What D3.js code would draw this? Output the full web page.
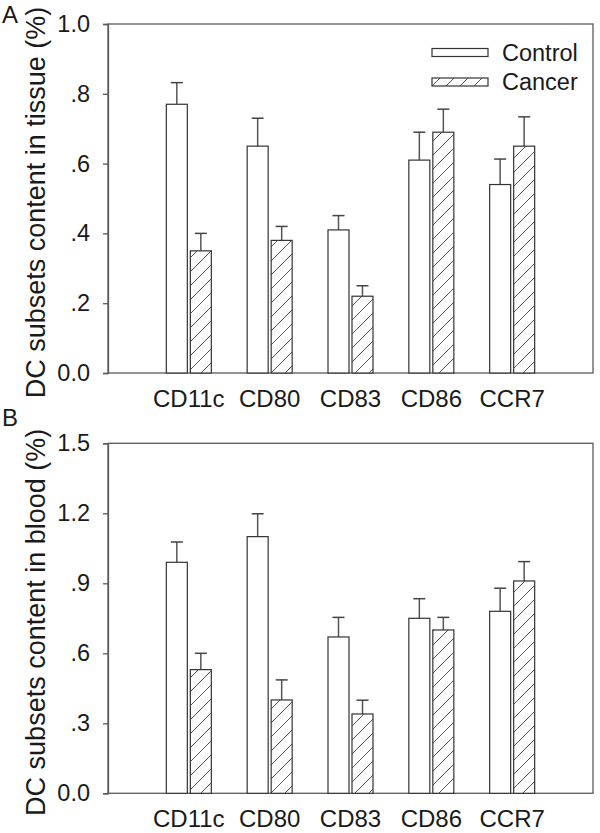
<!DOCTYPE html>
<html>
<head>
<meta charset="utf-8">
<script src="https://cdn.jsdelivr.net/npm/d3@7"></script>
<style>
  html, body { margin: 0; padding: 0; background: #fff; }
  svg { display: block; font-family: "Liberation Sans", Arial, sans-serif; }
</style>
</head>
<body>
<svg id="chart" width="600" height="833"></svg>
<script>
// ---- data ----
const categories = ["CD11c", "CD80", "CD83", "CD86", "CCR7"];
const seriesNames = ["Control", "Cancer"];

const tissueControl    = [0.77, 0.65, 0.41, 0.61, 0.54];
const tissueControlErr = [0.062, 0.080, 0.041, 0.080, 0.073];
const tissueCancer     = [0.35, 0.38, 0.22, 0.69, 0.65];
const tissueCancerErr  = [0.050, 0.040, 0.030, 0.066, 0.084];

const bloodControl     = [0.99, 1.10, 0.67, 0.75, 0.78];
const bloodControlErr  = [0.087, 0.098, 0.084, 0.084, 0.099];
const bloodCancer      = [0.53, 0.40, 0.34, 0.70, 0.91];
const bloodCancerErr   = [0.070, 0.086, 0.059, 0.054, 0.083];

const tissueTicks = [0, 0.2, 0.4, 0.6, 0.8, 1.0];
const tissueTickLabels = ["0.0", ".2", ".4", ".6", ".8", "1.0"];
const bloodTicks = [0, 0.3, 0.6, 0.9, 1.2, 1.5];
const bloodTickLabels = ["0.0", ".3", ".6", ".9", "1.2", "1.5"];

// ---- drawing ----
const svg = d3.select("#chart");
const ink = "#1a1a1a";
const frameColor = "#5a5a5a";

const defs = svg.append("defs");
const pat = defs.append("pattern")
  .attr("id", "hatch")
  .attr("patternUnits", "userSpaceOnUse")
  .attr("width", 14).attr("height", 14);
pat.append("rect").attr("width", 14).attr("height", 14).attr("fill", "#fff");
pat.append("path")
  .attr("d", "M-1,15 L15,-1 M-4,4 L4,-4 M10,18 L18,10")
  .attr("stroke", "#555").attr("stroke-width", 1);

function panel(opts) {
  const { top, bottom, left, right, ymax, ticks, tickLabels, control, controlErr, cancer, cancerErr, ylabel, letter, letterY, legend } = opts;
  const g = svg.append("g");
  const x = d3.scaleLinear().domain([0, categories.length + 1]).range([left, right]);
  const y = d3.scaleLinear().domain([0, ymax]).range([bottom, top]);

  // frame
  g.append("rect")
    .attr("x", left).attr("y", top)
    .attr("width", right - left).attr("height", bottom - top)
    .attr("fill", "none").attr("stroke", frameColor).attr("stroke-width", 1.3);

  // y axis
  const yAxis = d3.axisLeft(y).tickValues(ticks)
    .tickFormat((d, i) => tickLabels[i]).tickSize(5).tickPadding(13);
  const ya = g.append("g").attr("transform", `translate(${left},0)`).call(yAxis);
  ya.select(".domain").attr("stroke", frameColor).attr("stroke-width", 1.3);
  ya.selectAll(".tick line").attr("stroke", frameColor).attr("stroke-width", 1.3);
  ya.selectAll(".tick text").attr("fill", ink).attr("font-size", 23.5)
    .attr("font-family", "'Liberation Sans', Arial, sans-serif");

  // x labels
  g.selectAll(".xlab").data(categories).enter().append("text")
    .attr("x", (d, i) => x(i + 1))
    .attr("y", bottom + 33.5)
    .attr("text-anchor", "middle")
    .attr("font-size", 24).attr("fill", ink)
    .text(d => d);

  const bw = 21, gap = 1.5;
  const series = [
    { vals: control, errs: controlErr, fill: "#fff", off: -gap - bw },
    { vals: cancer, errs: cancerErr, fill: "url(#hatch)", off: gap }
  ];
  series.forEach(s => {
    const eg = g.append("g");
    eg.selectAll("line.v").data(s.vals).enter().append("line")
      .attr("x1", (d, i) => x(i + 1) + s.off + bw / 2)
      .attr("x2", (d, i) => x(i + 1) + s.off + bw / 2)
      .attr("y1", d => y(d))
      .attr("y2", (d, i) => y(d + s.errs[i]))
      .attr("stroke", "#555").attr("stroke-width", 1.5);
    eg.selectAll("line.c").data(s.vals).enter().append("line")
      .attr("x1", (d, i) => x(i + 1) + s.off + bw / 2 - 6)
      .attr("x2", (d, i) => x(i + 1) + s.off + bw / 2 + 6)
      .attr("y1", (d, i) => y(d + s.errs[i]))
      .attr("y2", (d, i) => y(d + s.errs[i]))
      .attr("stroke", "#444").attr("stroke-width", 1.5);
    g.append("g").selectAll("rect").data(s.vals).enter().append("rect")
      .attr("x", (d, i) => x(i + 1) + s.off)
      .attr("y", d => y(d))
      .attr("width", bw)
      .attr("height", d => y(0) - y(d))
      .attr("fill", s.fill)
      .attr("stroke", "#333").attr("stroke-width", 1.2);
  });

  // y label
  g.append("text")
    .attr("transform", `translate(45,${(top + bottom) / 2 + 4}) rotate(-90)`)
    .attr("text-anchor", "middle")
    .attr("font-size", 27).attr("fill", ink)
    .text(ylabel);

  // panel letter
  svg.append("text").attr("x", 2).attr("y", letterY)
    .attr("font-size", 24).attr("fill", ink).text(letter);

  if (legend) {
    const lg = g.append("g");
    const rows = [
      { name: seriesNames[0], fill: "#fff", y: 48.5 },
      { name: seriesNames[1], fill: "url(#hatch)", y: 78 }
    ];
    rows.forEach(r => {
      lg.append("rect").attr("x", 432).attr("y", r.y).attr("width", 56).attr("height", 8)
        .attr("fill", r.fill).attr("stroke", "#333").attr("stroke-width", 1.2);
      lg.append("text").attr("x", 502).attr("y", r.y + 12)
        .attr("font-size", 23.5).attr("fill", ink).text(r.name);
    });
  }
}

panel({
  top: 24, bottom: 373, left: 108, right: 593, ymax: 1.0,
  ticks: tissueTicks, tickLabels: tissueTickLabels,
  control: tissueControl, controlErr: tissueControlErr,
  cancer: tissueCancer, cancerErr: tissueCancerErr,
  ylabel: "DC subsets content in tissue (%)",
  letter: "A", letterY: 23, legend: true
});
panel({
  top: 443.3, bottom: 793.3, left: 108, right: 593, ymax: 1.5,
  ticks: bloodTicks, tickLabels: bloodTickLabels,
  control: bloodControl, controlErr: bloodControlErr,
  cancer: bloodCancer, cancerErr: bloodCancerErr,
  ylabel: "DC subsets content in blood (%)",
  letter: "B", letterY: 426, legend: false
});
</script>
</body>
</html>
